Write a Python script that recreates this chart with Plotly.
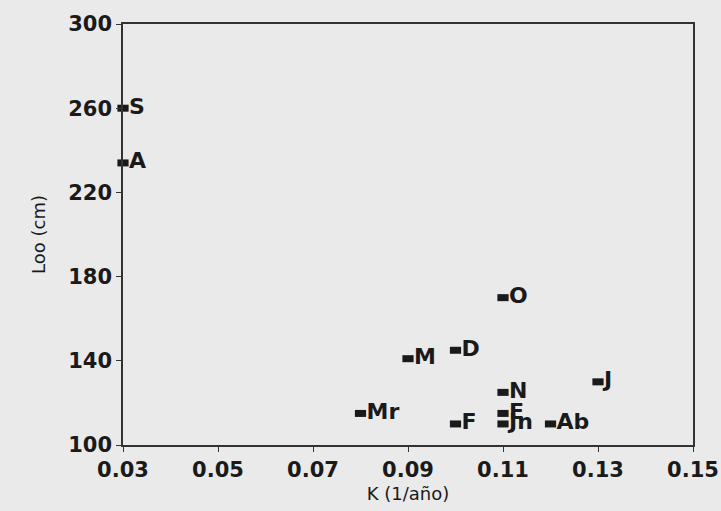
import plotly.graph_objects as go

labels = ["S", "A", "O", "D", "M", "Mr", "F", "N", "E", "Jn", "Ab", "J"]
k_values = [0.03, 0.03, 0.11, 0.10, 0.09, 0.08, 0.10, 0.11, 0.11, 0.11, 0.12, 0.13]
loo_values = [260, 234, 170, 145, 141, 115, 110, 125, 115, 110, 110, 130]

x_ticks = [0.03, 0.05, 0.07, 0.09, 0.11, 0.13, 0.15]
y_ticks = [100, 140, 180, 220, 260, 300]

bg = "#eaeaea"
ink = "#1a1a1a"

fig = go.Figure(
    go.Scatter(
        x=k_values,
        y=loo_values,
        mode="markers+text",
        text=labels,
        textposition="middle right",
        textfont=dict(family="DejaVu Sans", size=22, color=ink, weight="bold"),
        marker=dict(symbol="line-ew", size=8, color=ink,
                    line=dict(width=7, color=ink)),
        cliponaxis=False,
        showlegend=False,
    )
)

axis_common = dict(
    showline=True, linecolor="#333333", linewidth=1.5, mirror=True,
    showgrid=False, zeroline=False, automargin=False,
    ticks="outside", ticklen=5, tickwidth=1, tickcolor="#333333",
    tickfont=dict(family="DejaVu Sans", size=21, color=ink, weight="bold"),
)

fig.update_xaxes(
    range=[0.03, 0.15], tickvals=x_ticks, ticktext=[f"{v:.2f}" for v in x_ticks],
    title=dict(text="K (1/año)", font=dict(family="DejaVu Sans", size=18, color=ink), standoff=6),
    **axis_common,
)
fig.update_yaxes(
    range=[100, 300], tickvals=y_ticks, ticktext=[str(v) for v in y_ticks],
    title=dict(text="Loo (cm)", font=dict(family="DejaVu Sans", size=18, color=ink), standoff=18),
    **axis_common,
)

fig.update_layout(
    width=721, height=511,
    margin=dict(l=123, r=28, t=24, b=66),
    paper_bgcolor=bg, plot_bgcolor=bg,
)

fig.write_html("out.html")
